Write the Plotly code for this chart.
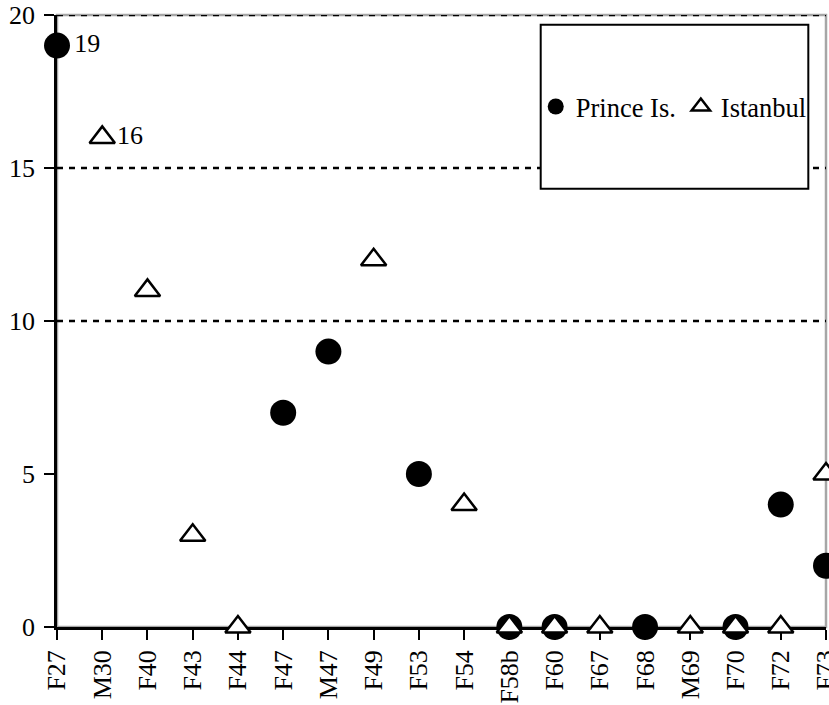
import plotly.graph_objects as go

categories = ["F27", "M30", "F40", "F43", "F44", "F47", "M47", "F49", "F53", "F54",
              "F58b", "F60", "F67", "F68", "M69", "F70", "F72", "F73"]

prince_x = ["F27", "F47", "M47", "F53", "F58b", "F60", "F68", "F70", "F72", "F73"]
prince_y = [19, 7, 9, 5, 0, 0, 0, 0, 4, 2]
prince_labels = ["19", "", "", "", "", "", "", "", "", ""]

istanbul_x = ["M30", "F40", "F43", "F44", "F49", "F54", "F58b", "F60", "F67", "M69", "F70", "F72", "F73"]
istanbul_y = [16, 11, 3, 0, 12, 4, 0, 0, 0, 0, 0, 0, 5]
istanbul_labels = ["16", "", "", "", "", "", "", "", "", "", "", "", ""]

y_ticks = [0, 5, 10, 15, 20]
grid_values = [10, 15, 20]

FONT = "Liberation Serif"
FS = 26

fig = go.Figure()
fig.add_trace(go.Scatter(
    x=prince_x, y=prince_y, mode="markers+text", name="Prince Is.",
    text=prince_labels, textposition="middle right",
    textfont=dict(family=FONT, size=FS, color="black"),
    marker=dict(symbol="circle", size=26, color="black"),
    cliponaxis=False,
))
fig.add_trace(go.Scatter(
    x=istanbul_x, y=istanbul_y, mode="markers+text", name="Istanbul",
    text=istanbul_labels, textposition="middle right",
    textfont=dict(family=FONT, size=FS, color="black"),
    marker=dict(symbol="triangle-up", size=22, color="white",
                line=dict(color="black", width=2.5)),
    cliponaxis=False,
))

shapes = [dict(type="rect", xref="paper", yref="paper", x0=0, x1=1, y0=0, y1=1,
               line=dict(color="#a6a6a6", width=2.5), layer="below")]
for g in grid_values:
    shapes.append(dict(type="line", xref="paper", yref="y", x0=0, x1=1, y0=g, y1=g,
                       line=dict(color="black", width=2.5, dash="6px,6px"), layer="below"))
shapes.append(dict(type="rect", xref="paper", yref="paper",
                   x0=0.629, x1=0.977, y0=0.716, y1=0.984,
                   line=dict(color="black", width=2), fillcolor="white", layer="below"))

fig.update_layout(
    width=829, height=705,
    margin=dict(l=57, r=3, t=15, b=78),
    plot_bgcolor="white", paper_bgcolor="white",
    font=dict(family=FONT, size=FS, color="black"),
    showlegend=True,
    legend=dict(orientation="h", x=0.802, y=0.85, xanchor="center", yanchor="middle",
                bgcolor="rgba(0,0,0,0)", borderwidth=0,
                font=dict(family=FONT, size=26.5, color="black"),
                itemwidth=30),
    shapes=shapes,
    xaxis=dict(type="category", categoryorder="array", categoryarray=categories,
               range=[0, len(categories) - 1], tickangle=-90,
               showline=True, linecolor="black", linewidth=2.5,
               ticks="outside", ticklen=10, tickwidth=2, tickcolor="black",
               showgrid=False, zeroline=False, layer="below traces",
               automargin=False, ticklabeloverflow="allow",
               tickfont=dict(family=FONT, size=FS, color="black")),
    yaxis=dict(range=[0, 20], tickvals=y_ticks,
               showline=True, linecolor="black", linewidth=2.5,
               ticks="outside", ticklen=10, tickwidth=2, tickcolor="black",
               showgrid=False, zeroline=False, layer="below traces",
               ticklabelstandoff=4, automargin=False, ticklabeloverflow="allow",
               tickfont=dict(family=FONT, size=FS, color="black")),
)

fig.write_html("out.html", config={"displayModeBar": False},
               post_script="document.body.style.margin='0';document.body.style.overflow='hidden';")
